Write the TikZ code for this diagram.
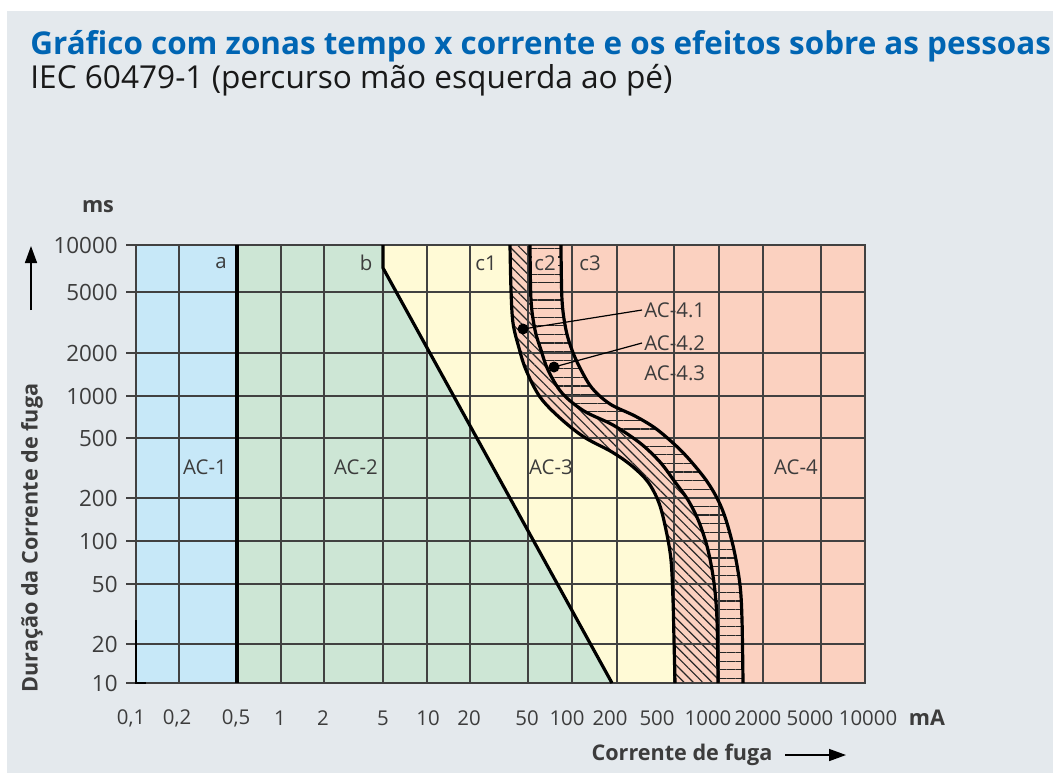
\documentclass[tikz,border=0pt]{standalone}
\usepackage{fontspec}
\setmainfont{Open Sans}
\usetikzlibrary{arrows.meta,patterns.meta}

\definecolor{panelgray}{RGB}{228,233,237}
\definecolor{titleblue}{RGB}{0,101,179}
\definecolor{zoneone}{RGB}{199,232,248}
\definecolor{zonetwo}{RGB}{205,230,213}
\definecolor{zonethree}{RGB}{255,250,214}
\definecolor{zonefour}{RGB}{251,209,192}
\definecolor{gridgray}{RGB}{65,65,65}
\definecolor{textgray}{RGB}{60,60,60}

% limit curves c1, c2, c3 (pixel coordinates, y downwards)
\newcommand{\curveone}{-- plot[smooth,tension=0.55] coordinates {(510,245) (511,290) (513,323) (519,348) (526,370) (540,397) (560,418) (584,437) (612,452) (632,466) (648,482) (659,503) (666,530) (671,560) (673,600) (674,640) (675,683)}}
\newcommand{\curvetwo}{-- plot[smooth,tension=0.55] coordinates {(530,245) (531,300) (535,330) (541,350) (548,370) (562,393) (584,411) (613,425) (640,443) (660,462) (675,482) (688,500) (699,522) (708,550) (714,583) (717,620) (718,683)}}
\newcommand{\curvethree}{-- plot[smooth,tension=0.55] coordinates {(561,245) (562,300) (566,330) (572,350) (580,368) (592,388) (610,404) (635,416) (655,428) (673,443) (688,458) (706,480) (718,500) (726,520) (734,550) (740,585) (742,620) (743,683)}}

\begin{document}
\begin{tikzpicture}[x=0.5pt,y=-0.5pt,
	gridline/.style={draw=gridgray,line width=0.8pt},
	limitline/.style={draw=black,line width=1.6pt,line join=round},
	ticklabel/.style={font=\fontsize{10.2}{12}\selectfont,text=textgray,inner sep=1pt},
	zonelabel/.style={font=\fontsize{10.2}{12}\selectfont,text=textgray,inner sep=1pt},
	axislabel/.style={font=\fontsize{10.8}{12}\selectfont\bfseries,text=textgray,inner sep=1pt},
	axisarrow/.style={draw=black,line width=0.8pt,-{Triangle[length=8.5pt,width=6pt]}},
	markdot/.style={circle,fill=black,inner sep=0pt,minimum size=5.5pt},
	leader/.style={draw=black,line width=0.6pt}]
	\useasboundingbox (0,0) rectangle (1053,773);
	\fill[white] (0,0) rectangle (1053,773);
	\fill[panelgray] (7,11) rectangle (1053,773);
	
	% title
	\node[anchor=base west,inner sep=0pt,text=titleblue,font=\fontsize{15.7}{18}\selectfont\bfseries] (title) at (30,54) {Gráfico com zonas tempo x corrente e os efeitos sobre as pessoas};
	\node[anchor=base west,inner sep=0pt,text=black!90,font=\fontsize{15.8}{18}\selectfont] (subtitle) at (30,88) {IEC 60479-1 (percurso mão esquerda ao pé)};
	
	% zones
	\fill[zonefour] (136,245) rectangle (865,683);
	\fill[zonethree] (136,245) \curveone -- (136,683) -- cycle;
	\fill[zonetwo] (136,245) -- (383,245) -- (383,268) -- (612,683) -- (136,683) -- cycle;
	\fill[zoneone] (136,245) rectangle (237,683);
	
	% hatched bands AC-4.1 and AC-4.2
	\begin{scope}
		\clip (865,245) \curveone -- (865,683) -- cycle;
		\fill[pattern={Lines[angle=-45,distance=3.3pt,line width=0.6pt]},pattern color=black!85] (136,245) \curvetwo -- (136,683) -- cycle;
	\end{scope}
	\begin{scope}
		\clip (865,245) \curvetwo -- (865,683) -- cycle;
		\fill[pattern={Lines[angle=0,distance=4.3pt,line width=0.6pt]},pattern color=black!85] (136,245) \curvethree -- (136,683) -- cycle;
	\end{scope}
	
	% grid
	\foreach \x in {179,237,281,324,383,427,470,528,572,617,674,719,763,821}
		\draw[gridline] (\x,245) -- (\x,683);
	\foreach \y in {245,292,353,396,438,498,541,584,644,683}
		\draw[gridline] (126,\y) -- (865,\y);
	\draw[gridline] (136,245) rectangle (865,683);
	\draw[draw=black,line width=1.1pt] (136,620) -- (136,683) -- (146,683);
	
	% limit lines a, b, c1, c2, c3
	\draw[limitline] (237,245) -- (237,683);
	\draw[limitline] (383,245) -- (383,268) -- (612,683);
	\draw[limitline] (510,245) \curveone;
	\draw[limitline] (530,245) \curvetwo;
	\draw[limitline] (561,245) \curvethree;
	
	% curve names
	\node[zonelabel] (cura) at (221,263) {a};
	\node[zonelabel] (curb) at (366,263) {b};
	\node[zonelabel] (curcone) at (486,263) {c1};
	\node[zonelabel,fill=zonefour] (curctwo) at (545,263) {c2};
	\node[zonelabel] (curcthree) at (590,263) {c3};
	
	% zone names
	\node[zonelabel] (acone) at (205,467) {AC-1};
	\node[zonelabel] (actwo) at (356,467) {AC-2};
	\node[zonelabel] (acthree) at (551,467) {AC-3};
	\node[zonelabel] (acfour) at (796,467) {AC-4};
	\node[zonelabel,anchor=west] (acfourone) at (642,310) {AC-4.1};
	\node[zonelabel,anchor=west] (acfourtwo) at (642,343) {AC-4.2};
	\node[zonelabel,anchor=west] (acfourthree) at (642,373) {AC-4.3};
	\node[markdot] (dotone) at (523,329) {};
	\node[markdot] (dottwo) at (554,367) {};
	\draw[leader] (dotone.center) -- (acfourone.west);
	\draw[leader] (dottwo.center) -- (acfourtwo.west);
	
	% y axis
	\foreach \y/\t in {245/10000,292/5000,353/2000,396/1000,438/500,498/200,541/100,584/50,644/20,683/10}
		\node[ticklabel,font=\fontsize{11.2}{12}\selectfont,anchor=east] (yl\t) at (120,\y) {\t};
	\node[axislabel] (yunit) at (98,207) {ms};
	\node[axislabel,rotate=90] (ytitle) at (32,538) {Duração da Corrente de fuga};
	\coordinate (yarrowfoot) at (31,310);
	\coordinate (yarrowtip) at (31,246);
	\draw[axisarrow] (yarrowfoot) -- (yarrowtip);
	
	% x axis
	\foreach \x/\t [count=\i] in {131/{0,1},177/{0,2},236/{0,5},280/1,323/2,383/5,428/10,469/20,527/50,567/100,610/200,657/500,708/1000,758/2000,810/5000,868/10000}
		\node[ticklabel] (xl\i) at (\x,718) {\t};
	\node[axislabel] (xunit) at (927,718) {mA};
	\node[axislabel] (xtitle) at (682,755) {Corrente de fuga};
	\coordinate (xarrowfoot) at (785,755);
	\coordinate (xarrowtip) at (846,755);
	\draw[axisarrow] (xarrowfoot) -- (xarrowtip);
\end{tikzpicture}
\end{document}
